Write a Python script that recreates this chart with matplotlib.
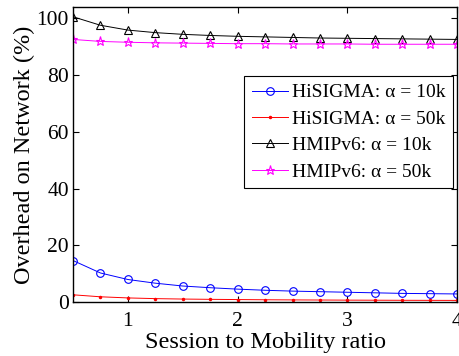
import numpy as np
import matplotlib
matplotlib.use("Agg")
import matplotlib.pyplot as plt

# session-to-mobility ratio samples
ratio = [0.5, 0.75, 1.0, 1.25, 1.5, 1.75, 2.0, 2.25, 2.5, 2.75, 3.0, 3.25, 3.5, 3.75, 4.0]

# overhead on network (%)
hisigma_10k = [14.6, 10.2, 7.9, 6.6, 5.6, 5.0, 4.5, 4.1, 3.8, 3.6, 3.4, 3.2, 3.0, 2.9, 2.8]
hisigma_50k = [2.5, 1.8, 1.4, 1.15, 1.0, 0.9, 0.82, 0.75, 0.7, 0.66, 0.62, 0.59, 0.56, 0.54, 0.52]
hmipv6_10k = [100.6, 97.6, 95.9, 95.0, 94.4, 94.0, 93.7, 93.5, 93.3, 93.1, 93.0, 92.9, 92.8, 92.7, 92.6]
hmipv6_50k = [92.6, 91.9, 91.6, 91.4, 91.3, 91.2, 91.1, 91.1, 91.0, 91.0, 91.0, 90.9, 90.9, 90.9, 90.9]

plt.rcParams['font.family'] = ['Liberation Serif', 'DejaVu Serif']

fig = plt.figure(figsize=(4.59, 3.56), dpi=100)
ax = fig.add_axes([0.159, 0.152, 0.837, 0.828])

ax.plot(ratio, hisigma_10k, color='blue', lw=0.7, marker='o', ms=5.5, mfc='none', mew=0.8,
        label='HiSIGMA: α = 10k')
ax.plot(ratio, hisigma_50k, color='red', lw=0.7, marker='.', ms=3,
        label='HiSIGMA: α = 50k')
ax.plot(ratio, hmipv6_10k, color='black', lw=0.7, marker='^', ms=6, mfc='none', mew=0.8,
        label='HMIPv6: α = 10k')
ax.plot(ratio, hmipv6_50k, color='magenta', lw=0.7, marker='*', ms=6.5, mfc='none', mew=0.8,
        label='HMIPv6: α = 50k')

ax.set_xlim(0.5, 4)
ax.set_ylim(0, 104)
ax.set_xticks([1, 2, 3, 4])
ax.set_yticks([0, 20, 40, 60, 80, 100])
ax.tick_params(direction='in', top=True, right=True, labelsize=15.5, length=4)
ax.tick_params(axis='x', pad=7)
ax.tick_params(axis='y', pad=3)
for s in ax.spines.values():
    s.set_linewidth(1.0)

ax.set_xlabel('Session to Mobility ratio', fontsize=17.5, labelpad=1)
ax.set_ylabel('Overhead on Network (%)', fontsize=17.5, labelpad=1)

leg = ax.legend(loc='upper right', bbox_to_anchor=(0.99, 0.766), fontsize=14,
                fancybox=False, edgecolor='black', framealpha=1, borderpad=0.4,
                labelspacing=0.45, handlelength=1.85, handletextpad=0.2, borderaxespad=0)
leg.get_frame().set_linewidth(0.8)

fig.savefig('out.png', dpi=100)
